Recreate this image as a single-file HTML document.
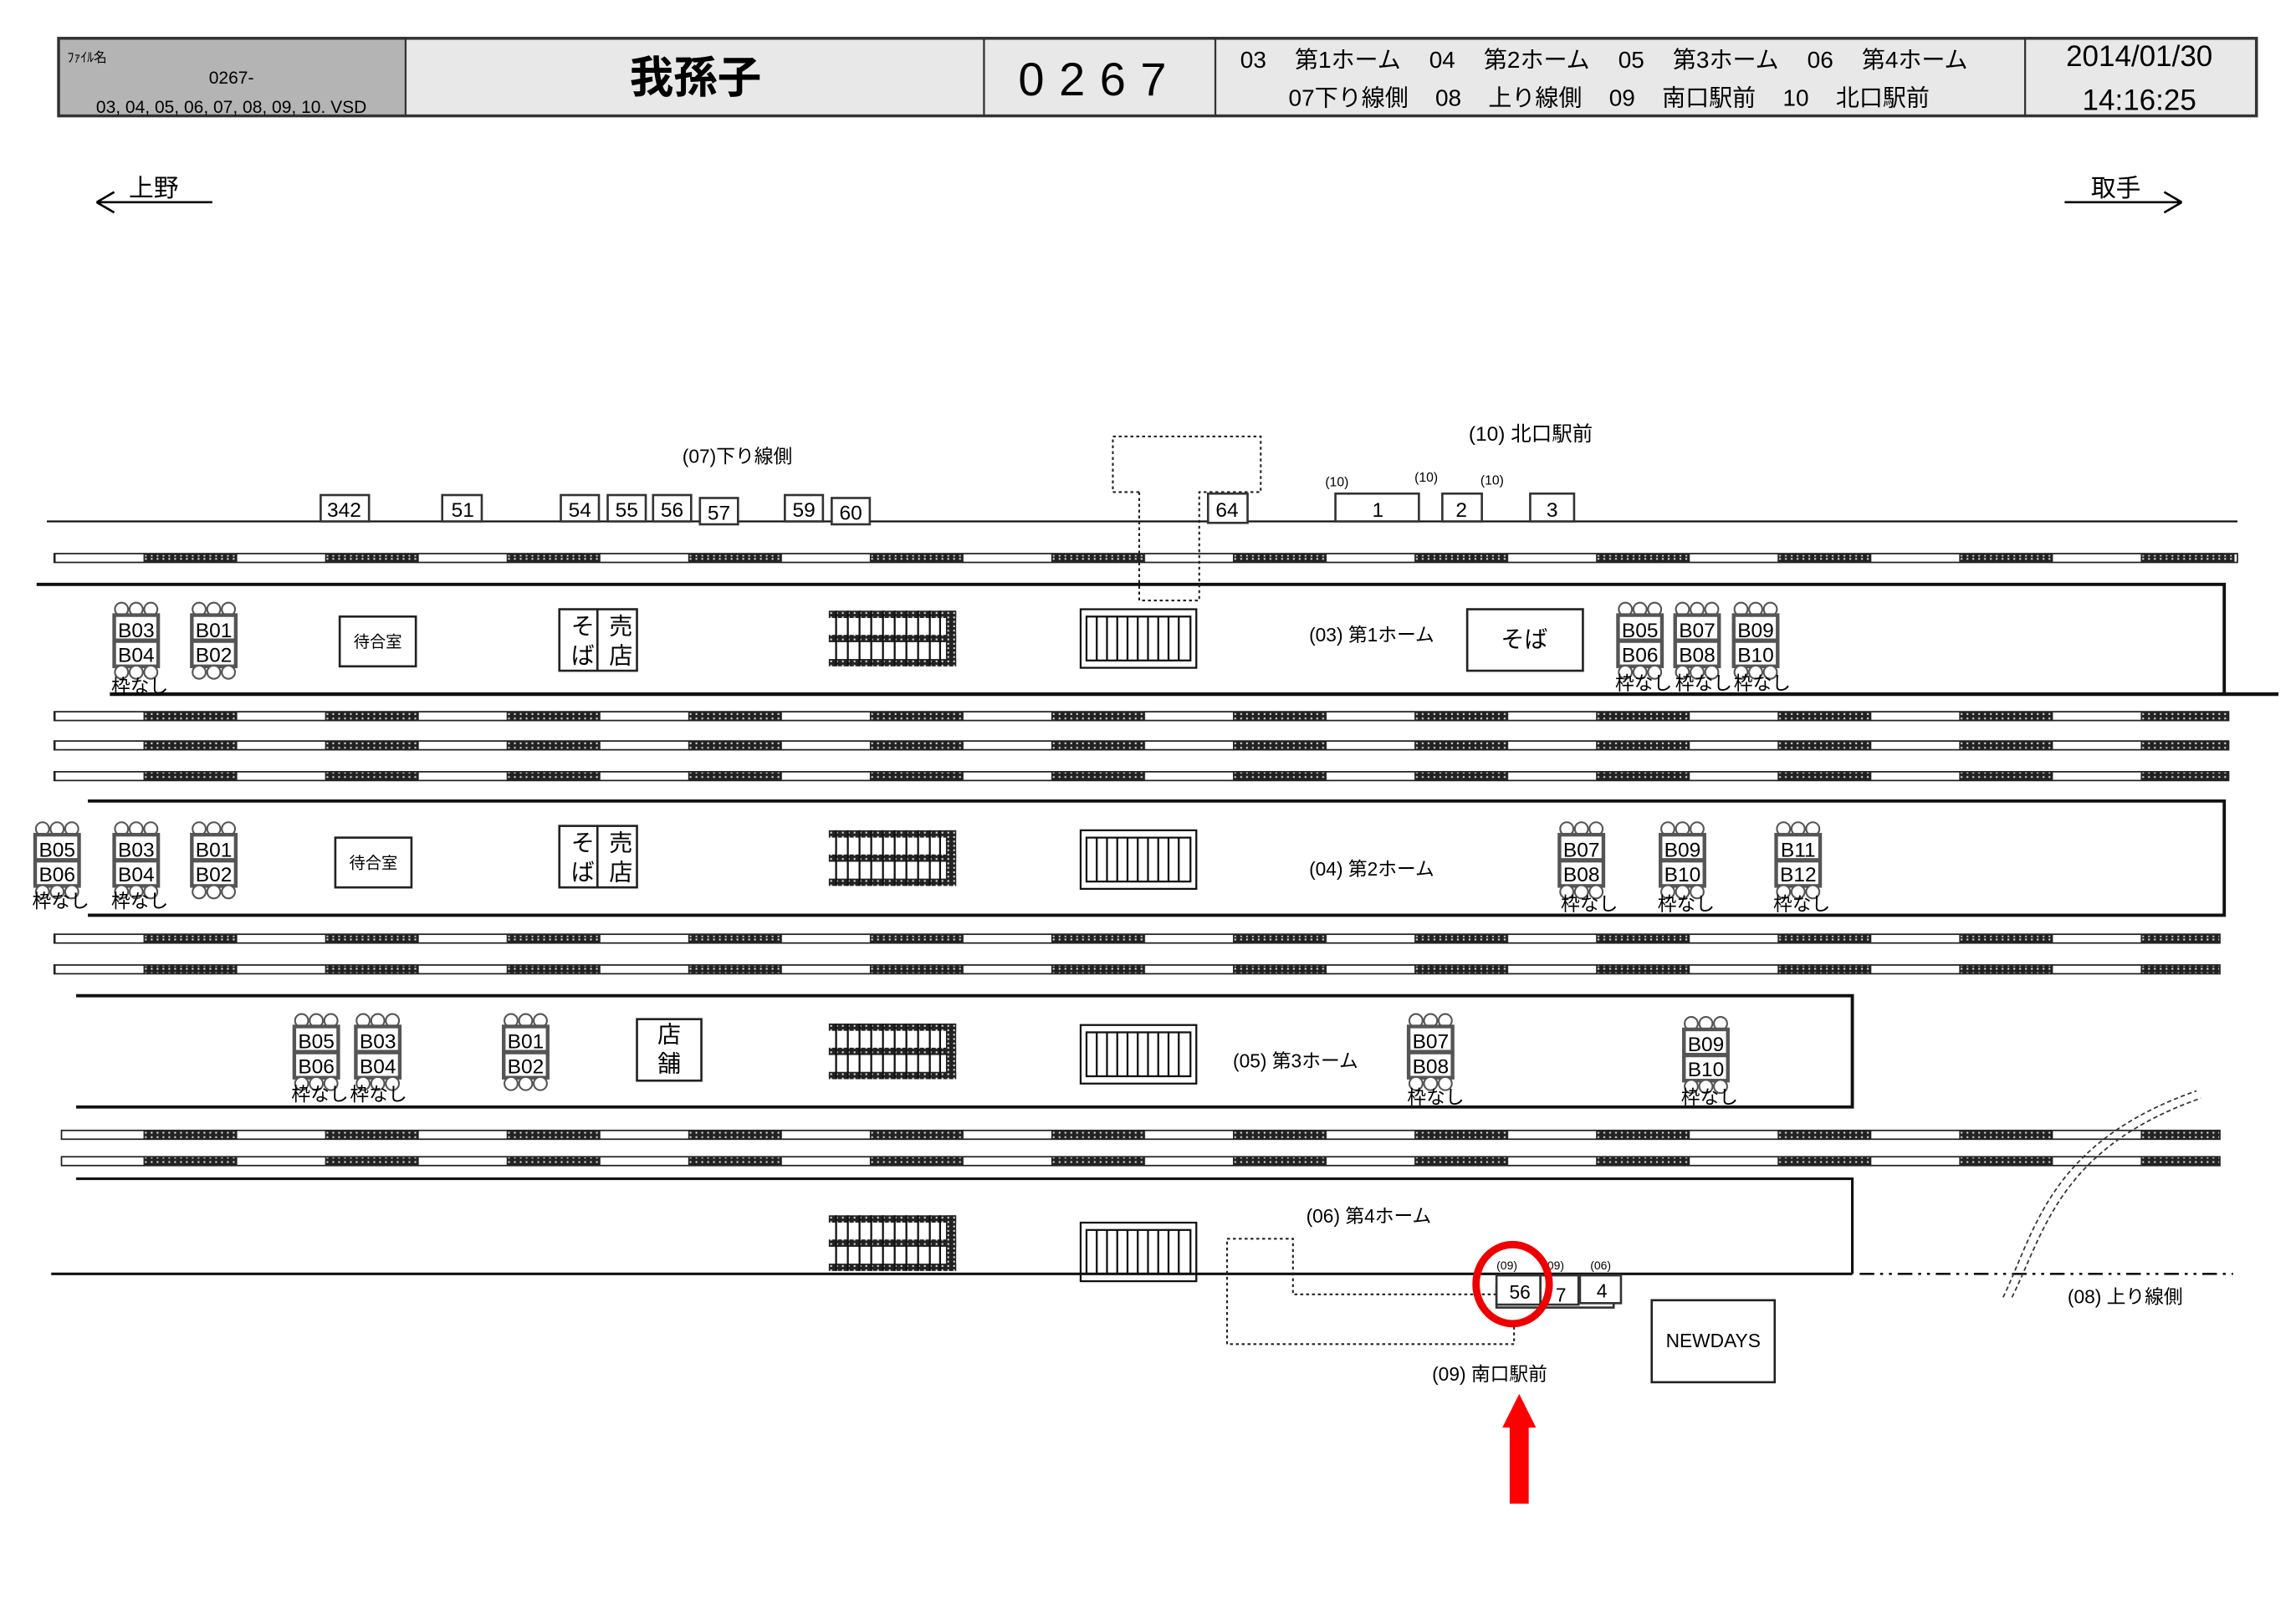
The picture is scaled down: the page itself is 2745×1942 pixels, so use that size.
<!DOCTYPE html>
<html><head><meta charset="utf-8"><style>
html,body{margin:0;padding:0;background:#fff}
svg{display:block}
text{font-family:"Liberation Sans","Noto Sans CJK JP",sans-serif;fill:#000}
</style></head><body>
<svg width="2745" height="1942" viewBox="0 0 1568 1109" xmlns="http://www.w3.org/2000/svg">
<defs>
<pattern id="dots" x="0" y="0" width="4" height="3" patternUnits="userSpaceOnUse">
<rect width="4" height="3" fill="#222"/><rect x="1" y="1" width="1.2" height="1.2" fill="#ddd"/>
</pattern>
<pattern id="tp" x="98" y="0" width="124" height="20" patternUnits="userSpaceOnUse">
<rect x="0" y="0" width="64" height="20" fill="url(#dots)"/>
</pattern>
<g id="bench">
<circle cx="6" cy="5" r="4.5" fill="#fff" stroke="#555" stroke-width="1.2"/><circle cx="16" cy="5" r="4.5" fill="#fff" stroke="#555" stroke-width="1.2"/><circle cx="26" cy="5" r="4.5" fill="#fff" stroke="#555" stroke-width="1.2"/>
<rect x="1" y="9" width="30" height="35" fill="#fff" stroke="#555" stroke-width="2.5"/>
<line x1="1" y1="26.5" x2="31" y2="26.5" stroke="#555" stroke-width="3"/>
<circle cx="6" cy="48" r="4.5" fill="#fff" stroke="#555" stroke-width="1.2"/><circle cx="16" cy="48" r="4.5" fill="#fff" stroke="#555" stroke-width="1.2"/><circle cx="26" cy="48" r="4.5" fill="#fff" stroke="#555" stroke-width="1.2"/>
</g>
<g id="dstair">
<rect x="0" y="0" width="87" height="5" fill="url(#dots)"/>
<rect x="0" y="16.5" width="87" height="5" fill="url(#dots)"/>
<rect x="0" y="33" width="87" height="5" fill="url(#dots)"/>
<rect x="80" y="0" width="7" height="38" fill="url(#dots)"/>
<path d="M5 0V38M13 0V38M21 0V38M29 0V38M37 0V38M45 0V38M53 0V38M61 0V38M69 0V38M76 0V38" stroke="#111" stroke-width="1.3"/>
</g>
<g id="lstair" fill="none" stroke="#111" stroke-width="1.3">
<rect x="0" y="0" width="79" height="40"/>
<rect x="4" y="5" width="71" height="30"/>
<path d="M11 5V35M18 5V35M25 5V35M32 5V35M39 5V35M46 5V35M53 5V35M60 5V35M67 5V35"/>
</g>
</defs>

<rect x="40" y="26" width="237" height="53" fill="#b4b4b4"/>
<rect x="277" y="26" width="1264" height="53" fill="#e8e8e8"/>
<rect x="40" y="26" width="1501" height="53" fill="none" stroke="#333" stroke-width="2"/>
<path d="M277 26V79M672 26V79M830 26V79M1383 26V79" stroke="#333" stroke-width="1.3"/>
<text x="46" y="42" font-size="9">ﾌｧｲﾙ名</text>
<text x="158" y="57" font-size="12" text-anchor="middle">0267-</text>
<text x="158" y="77" font-size="12" text-anchor="middle">03, 04, 05, 06, 07, 08, 09, 10. VSD</text>
<text x="475" y="63" font-size="30" text-anchor="middle" font-weight="bold">我孫子</text>
<text x="751" y="65" font-size="32" text-anchor="middle" letter-spacing="10">0267</text>
<text x="847" y="46" font-size="16" word-spacing="15">03 第1ホーム 04 第2ホーム 05 第3ホーム 06 第4ホーム</text>
<text x="880" y="72" font-size="16" word-spacing="14">07下り線側 08 上り線側 09 南口駅前 10 北口駅前</text>
<text x="1461" y="45" font-size="20" text-anchor="middle">2014/01/30</text>
<text x="1461" y="75" font-size="20" text-anchor="middle">14:16:25</text>

<text x="88" y="134" font-size="17">上野</text>
<path d="M66 138H145M66 138L78 131M66 138L78 145" stroke="#000" stroke-width="1.5" fill="none"/>
<text x="1428" y="134" font-size="17">取手</text>
<path d="M1410 138H1490M1490 138L1478 131M1490 138L1478 145" stroke="#000" stroke-width="1.5" fill="none"/>

<g stroke="#222" stroke-width="1">
<rect x="37" y="378" width="1491" height="6" fill="url(#tp)"/>
<rect x="37" y="486" width="1485" height="6" fill="url(#tp)"/>
<rect x="37" y="506" width="1485" height="6" fill="url(#tp)"/>
<rect x="37" y="527" width="1485" height="6" fill="url(#tp)"/>
<rect x="37" y="638" width="1479" height="6" fill="url(#tp)"/>
<rect x="37" y="659" width="1479" height="6" fill="url(#tp)"/>
<rect x="42" y="772" width="1474" height="6" fill="url(#tp)"/>
<rect x="42" y="790" width="1474" height="6" fill="url(#tp)"/>
</g>

<g stroke="#111" fill="none">
<line x1="32" y1="356" x2="1528" y2="356" stroke-width="1.3"/>
<path d="M25 399H1519V474" stroke-width="2.2"/>
<line x1="75" y1="474" x2="1556" y2="474" stroke-width="2.5"/>
<path d="M60 547H1519V625H60" stroke-width="2.2"/>
<path d="M52 680H1265V756H52" stroke-width="2.2"/>
<path d="M52 805H1265V870" stroke-width="1.8"/>
<line x1="35" y1="870" x2="1265" y2="870" stroke-width="1.8"/>
<line x1="1270" y1="870" x2="1525" y2="870" stroke-width="1.5" stroke-dasharray="10,4,2,4,2,4"/>
</g>

<g stroke="#333" fill="none" stroke-width="1" stroke-dasharray="3,2">
<path d="M1368 886C1390 840 1400 780 1500 745"/>
<path d="M1374 886C1396 842 1406 784 1503 750"/>
</g>
<text x="1412" y="890" font-size="13">(08) 上り線側</text>

<g stroke="#222" fill="none" stroke-width="1.2" stroke-dasharray="2,2">
<path d="M778 336H760V298H861V336H819V410H778V336"/>
<path d="M1022 884H883V846H838V918H1034V900"/>
</g>

<text x="466" y="316" font-size="13">(07)下り線側</text>
<text x="1003" y="301" font-size="14">(10) 北口駅前</text>
<g fill="#fff" stroke="#333" stroke-width="1.5">
<rect x="219" y="338" width="33" height="18"/><rect x="302" y="338" width="27" height="18"/>
<rect x="383" y="338" width="26" height="18"/><rect x="415" y="338" width="26" height="18"/><rect x="446" y="338" width="26" height="18"/><rect x="478" y="340" width="26" height="18"/>
<rect x="536" y="338" width="26" height="18"/><rect x="568" y="340" width="26" height="18"/>
<rect x="825" y="337" width="27" height="20"/>
<rect x="912" y="337" width="57" height="19"/><rect x="985" y="337" width="27" height="19"/><rect x="1045" y="337" width="30" height="19"/>
</g>
<g font-size="14" text-anchor="middle">
<text x="235" y="353">342</text><text x="316" y="353">51</text>
<text x="396" y="353">54</text><text x="428" y="353">55</text><text x="459" y="353">56</text><text x="491" y="355">57</text>
<text x="549" y="353">59</text><text x="581" y="355">60</text>
<text x="838" y="353">64</text>
<text x="941" y="353">1</text><text x="998" y="353">2</text><text x="1060" y="353">3</text>
</g>
<g font-size="9"><text x="905" y="332">(10)</text><text x="966" y="329">(10)</text><text x="1011" y="331">(10)</text></g>

<use href="#dstair" x="566" y="417"/><use href="#dstair" x="566" y="567"/><use href="#dstair" x="566" y="699"/><use href="#dstair" x="566" y="830"/>
<use href="#lstair" x="738" y="416"/><use href="#lstair" x="738" y="567"/><use href="#lstair" x="738" y="700"/><use href="#lstair" x="738" y="835"/>

<g fill="#fff" stroke="#222" stroke-width="1.5">
<rect x="232" y="421" width="52" height="34"/><rect x="229" y="572" width="52" height="34"/>
<rect x="382" y="416" width="53" height="42"/><line x1="408" y1="416" x2="408" y2="458"/>
<rect x="382" y="564" width="53" height="42"/><line x1="408" y1="564" x2="408" y2="606"/>
<rect x="435" y="696" width="44" height="42"/>
<rect x="1002" y="416" width="79" height="42"/>
<rect x="1128" y="888" width="84" height="56"/>
</g>
<g font-size="11" text-anchor="middle"><text x="258" y="442">待合室</text><text x="255" y="593">待合室</text></g>
<g font-size="16" text-anchor="middle">
<text x="398" y="433">そ</text><text x="398" y="453">ば</text><text x="424" y="433">売</text><text x="424" y="453">店</text>
<text x="398" y="581">そ</text><text x="398" y="601">ば</text><text x="424" y="581">売</text><text x="424" y="601">店</text>
<text x="457" y="712">店</text><text x="457" y="732">舗</text>
<text x="1041" y="442">そば</text>
</g>
<text x="1170" y="920" font-size="13" text-anchor="middle">NEWDAYS</text>

<g font-size="13">
<text x="894" y="438">(03) 第1ホーム</text>
<text x="894" y="598">(04) 第2ホーム</text>
<text x="842" y="729">(05) 第3ホーム</text>
<text x="892" y="835">(06) 第4ホーム</text>
<text x="978" y="943">(09) 南口駅前</text>
</g>

<use href="#bench" x="77" y="411"/><use href="#bench" x="130" y="411"/>
<use href="#bench" x="1104" y="411"/><use href="#bench" x="1143" y="411"/><use href="#bench" x="1183" y="411"/>
<use href="#bench" x="23" y="561"/><use href="#bench" x="77" y="561"/><use href="#bench" x="130" y="561"/>
<use href="#bench" x="1064" y="561"/><use href="#bench" x="1133" y="561"/><use href="#bench" x="1212" y="561"/>
<use href="#bench" x="200" y="692"/><use href="#bench" x="242" y="692"/><use href="#bench" x="343" y="692"/>
<use href="#bench" x="961" y="692"/><use href="#bench" x="1149" y="694"/>
<g font-size="14" text-anchor="middle">
<text x="93" y="435">B03</text><text x="93" y="452">B04</text><text x="146" y="435">B01</text><text x="146" y="452">B02</text>
<text x="1120" y="435">B05</text><text x="1120" y="452">B06</text><text x="1159" y="435">B07</text><text x="1159" y="452">B08</text><text x="1199" y="435">B09</text><text x="1199" y="452">B10</text>
<text x="39" y="585">B05</text><text x="39" y="602">B06</text><text x="93" y="585">B03</text><text x="93" y="602">B04</text><text x="146" y="585">B01</text><text x="146" y="602">B02</text>
<text x="1080" y="585">B07</text><text x="1080" y="602">B08</text><text x="1149" y="585">B09</text><text x="1149" y="602">B10</text><text x="1228" y="585">B11</text><text x="1228" y="602">B12</text>
<text x="216" y="716">B05</text><text x="216" y="733">B06</text><text x="258" y="716">B03</text><text x="258" y="733">B04</text><text x="359" y="716">B01</text><text x="359" y="733">B02</text>
<text x="977" y="716">B07</text><text x="977" y="733">B08</text><text x="1165" y="718">B09</text><text x="1165" y="735">B10</text>
</g>
<g font-size="13">
<text x="76" y="473">枠なし</text>
<text x="1103" y="471">枠なし</text><text x="1144" y="471">枠なし</text><text x="1184" y="471">枠なし</text>
<text x="22" y="620">枠なし</text><text x="76" y="620">枠なし</text>
<text x="1066" y="622">枠なし</text><text x="1132" y="622">枠なし</text><text x="1211" y="622">枠なし</text>
<text x="199" y="752">枠なし</text><text x="239" y="752">枠なし</text>
<text x="961" y="754">枠なし</text><text x="1148" y="754">枠なし</text>
</g>

<g fill="#fff" stroke="#333" stroke-width="1.5">
<rect x="1022" y="878" width="80" height="15"/>
<rect x="1022" y="871" width="30" height="20"/>
<rect x="1052" y="871" width="26" height="20"/>
<rect x="1079" y="871" width="28" height="19"/>
</g>
<g font-size="13" text-anchor="middle"><text x="1038" y="887">56</text><text x="1066" y="889">7</text><text x="1094" y="886">4</text></g>
<g font-size="8"><text x="1022" y="867">(09)</text><text x="1054" y="867">(09)</text><text x="1086" y="867">(06)</text></g>
<ellipse cx="1033" cy="877" rx="25" ry="27" fill="none" stroke="#e00" stroke-width="5"/>
<rect x="1031" y="973" width="13" height="54" fill="#f00"/>
<polygon points="1026,975 1049,975 1037.5,952" fill="#f00"/>
</svg>
</body></html>
